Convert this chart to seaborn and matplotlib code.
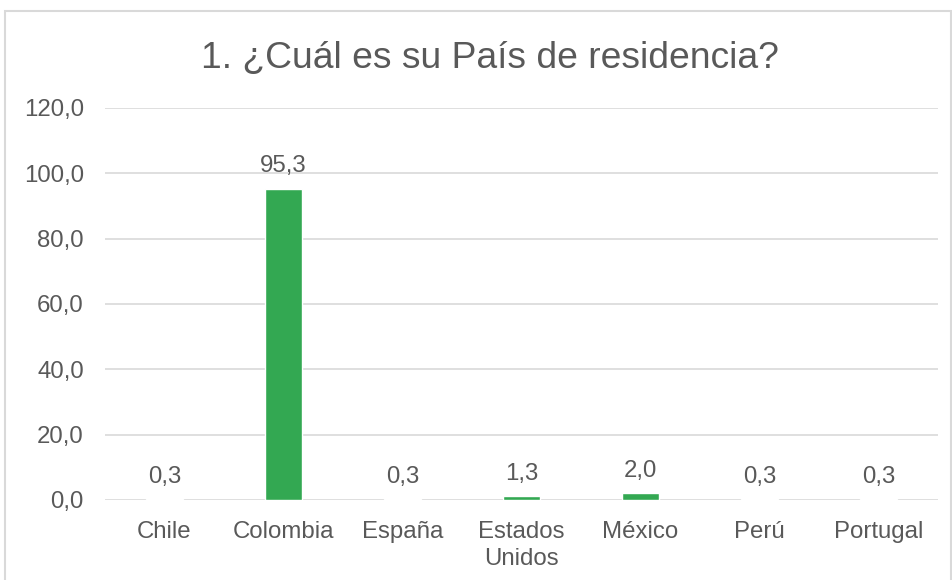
import matplotlib
matplotlib.use("Agg")
import matplotlib.pyplot as plt
import matplotlib.patches as patches
import seaborn as sns

paises = ["Chile", "Colombia", "España", "Estados\nUnidos", "México", "Perú", "Portugal"]
porcentajes = [0.3, 95.3, 0.3, 1.3, 2.0, 0.3, 0.3]
y_ticks = [0, 20, 40, 60, 80, 100, 120]
titulo = "1. ¿Cuál es su País de residencia?"

sns.set_style("white")
plt.rcParams['font.family'] = ['Liberation Sans', 'DejaVu Sans']

gris_texto = "#595959"
gris_linea = "#D9D9D9"
verde = "#33A852"


def coma(v):
    return f"{v:.1f}".replace('.', ',')


fig = plt.figure(figsize=(9.53, 5.80), dpi=100)
ax = fig.add_axes([0.110, 0.138, 0.874, 0.676])

sns.barplot(x=paises, y=porcentajes, color=verde, saturation=1, width=0.31,
            ax=ax, zorder=3)

ax.set_ylim(0, 120)
ax.set_yticks(y_ticks)
ax.set_yticklabels([coma(t) for t in y_ticks], color=gris_texto, fontsize=17.3)
ax.set_xlim(-0.5, len(paises) - 0.5)
ax.tick_params(axis='x', labelsize=17.3, labelcolor=gris_texto, length=0, pad=15)
for lbl in ax.get_xticklabels():
    lbl.set_linespacing(1.3)
ax.tick_params(axis='y', length=0, pad=15)
ax.grid(axis='y', color=gris_linea, linewidth=1.2, zorder=0)
ax.set_axisbelow(True)
for s in ax.spines.values():
    s.set_visible(False)
ax.set_xlabel("")
ax.set_ylabel("")

# etiquetas de datos
for i, v in enumerate(porcentajes):
    ax.annotate(coma(v), (i, v), xytext=(0, 8), textcoords="offset points",
                ha="center", va="bottom", fontsize=17.3, color=gris_texto)

fig.text(0.514, 0.900, titulo, ha="center", va="center", fontsize=26.8, color=gris_texto)

# borde del gráfico
borde = patches.Rectangle((5 / 953, -0.05), 946 / 953, 0.05 + 1 - 11 / 580,
                          transform=fig.transFigure, fill=False,
                          edgecolor=gris_linea, linewidth=1.5)
fig.patches.append(borde)

fig.savefig("out.png", dpi=100)
